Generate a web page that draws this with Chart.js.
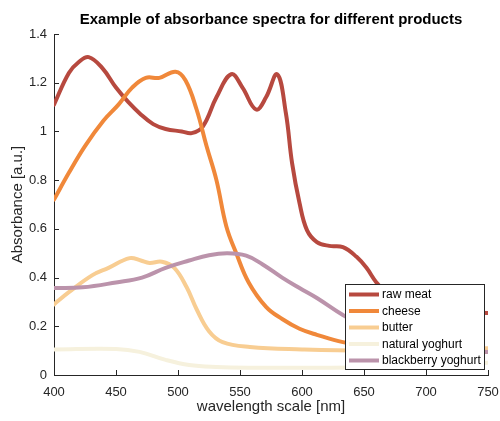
<!DOCTYPE html>
<html><head><meta charset="utf-8">
<script src="https://cdn.jsdelivr.net/npm/chart.js@4"></script>
<style>html,body{margin:0;padding:0;background:#fff}canvas{display:block}</style>
</head><body>
<canvas id="c" width="500" height="421"></canvas>
<script>
const chartTitle = 'Example of absorbance spectra for different products';
const xAxisTitle = 'wavelength scale [nm]';
const yAxisTitle = 'Absorbance [a.u.]';
const xTickLabels = ['400','450','500','550','600','650','700','750'];
const yTickLabels = ['0','0.2','0.4','0.6','0.8','1','1.2','1.4'];
const seriesLabels = ['raw meat','cheese','butter','natural yoghurt','blackberry yoghurt'];
const seriesColors = ['#b7493f','#f0883a','#f8cd92','#f6f1dd','#bb93ab'];

const rawMeatNm  = [400,412,420,428,439,450,460,470,480,490,503,511,520,531,543,552,563,571,580,587,592,598,604,612,622,633,644,652,660,670,685,700,725,750];
const rawMeatAbs = [1.11,1.24,1.285,1.305,1.26,1.18,1.12,1.07,1.03,1.01,1.0,0.993,1.02,1.14,1.235,1.18,1.09,1.14,1.235,1.075,0.87,0.706,0.595,0.546,0.53,0.525,0.485,0.44,0.38,0.33,0.29,0.27,0.258,0.255];

const cheeseNm  = [400,412,425,440,452,463,474,485,498,506,515,523,531,539,547,557,571,584,598,612,633,660,700,750];
const cheeseAbs = [0.72,0.83,0.94,1.045,1.11,1.18,1.22,1.22,1.245,1.21,1.09,0.94,0.80,0.61,0.50,0.38,0.28,0.23,0.19,0.165,0.135,0.115,0.10,0.095];

const butterNm  = [400,412,431,444,461,470,477,487,497,507,515,525,536,558,600,650,700,750];
const butterAbs = [0.29,0.34,0.41,0.44,0.48,0.47,0.46,0.465,0.44,0.36,0.27,0.18,0.135,0.115,0.105,0.10,0.105,0.11];

const naturalYoghurtNm  = [400,450,469,490,509,531,560,600,650,700,750];
const naturalYoghurtAbs = [0.105,0.107,0.095,0.062,0.041,0.033,0.03,0.03,0.032,0.04,0.05];

const blackberryYoghurtNm  = [400,423,450,471,490,509,525,540,555,568,584,598,612,633,660,680,700,725,750];
const blackberryYoghurtAbs = [0.357,0.36,0.38,0.40,0.44,0.47,0.492,0.50,0.49,0.455,0.40,0.357,0.316,0.246,0.17,0.13,0.11,0.10,0.094];

const seriesNm  = [rawMeatNm, cheeseNm, butterNm, naturalYoghurtNm, blackberryYoghurtNm];
const seriesAbs = [rawMeatAbs, cheeseAbs, butterAbs, naturalYoghurtAbs, blackberryYoghurtAbs];

const datasets = seriesLabels.map((lab, i) => ({
  label: lab,
  data: seriesNm[i].map((x, j) => ({x: x, y: seriesAbs[i][j]})),
  borderColor: seriesColors[i],
  backgroundColor: seriesColors[i],
  borderWidth: 4,
  pointRadius: 0,
  fill: false,
  tension: 0.4,
  borderCapStyle: 'round',
  borderJoinStyle: 'round'
})).reverse();

const FONT = "'Liberation Sans', Arial, Helvetica, sans-serif";
const AXC = '#262626';

const decor = {
  id: 'decor',
  afterDatasetsDraw(chart) {
    const ctx = chart.ctx;
    const xs = chart.scales.x, ys = chart.scales.y;
    const ca = chart.chartArea;
    ctx.save();
    ctx.strokeStyle = AXC; ctx.lineWidth = 1;
    ctx.beginPath();
    xs.ticks.forEach(t => {
      const px = Math.round(xs.getPixelForValue(t.value)) + 0.5;
      ctx.moveTo(px, ca.bottom); ctx.lineTo(px, ca.bottom - 5);
    });
    ys.ticks.forEach(t => {
      const py = Math.round(ys.getPixelForValue(t.value)) + 0.5;
      ctx.moveTo(ca.left, py); ctx.lineTo(ca.left + 5, py);
    });
    ctx.stroke();
    ctx.fillStyle = '#000';
    ctx.font = 'bold 15px ' + FONT;
    ctx.textAlign = 'center'; ctx.textBaseline = 'middle';
    ctx.fillText(chartTitle, (ca.left + ca.right) / 2, 20);
    const lx = 345, ly = 284, lw = 139, lh = 85;
    ctx.fillStyle = '#fff';
    ctx.fillRect(lx, ly, lw, lh);
    ctx.strokeStyle = AXC; ctx.lineWidth = 1;
    ctx.strokeRect(lx + 0.5, ly + 0.5, lw, lh);
    ctx.font = '12px ' + FONT;
    ctx.textAlign = 'left'; ctx.textBaseline = 'middle';
    seriesLabels.forEach((lab, i) => {
      const y = ly + 10.5 + i * 16.5;
      ctx.strokeStyle = seriesColors[i]; ctx.lineWidth = 4;
      ctx.beginPath(); ctx.moveTo(349, y); ctx.lineTo(379, y); ctx.stroke();
      ctx.fillStyle = '#000';
      ctx.fillText(lab, 382, y + 0.5);
    });
    ctx.restore();
  }
};

new Chart(document.getElementById('c'), {
  type: 'line',
  data: { datasets: datasets },
  options: {
    responsive: false,
    animation: false,
    layout: { padding: { top: 34, left: 0, right: 12, bottom: 0 } },
    plugins: { legend: { display: false }, title: { display: false }, tooltip: { enabled: false } },
    scales: {
      x: {
        type: 'linear', min: 400, max: 750,
        afterFit(s) { s.height = 46; s.paddingLeft = 0; s.paddingRight = 0; },
        ticks: { stepSize: 50, padding: 10, color: AXC, maxRotation: 0, autoSkip: false,
                 font: { family: FONT, size: 13 },
                 callback: (v, i) => xTickLabels[i] },
        grid: { display: false, drawTicks: false },
        border: { display: true, color: AXC, width: 1 },
        title: { display: true, text: xAxisTitle, color: AXC, font: { family: FONT, size: 15 },
                 padding: { top: 0, bottom: 5 } }
      },
      y: {
        type: 'linear', min: 0, max: 1.4,
        afterFit(s) { s.width = 54; s.paddingTop = 0; s.paddingBottom = 0; },
        ticks: { stepSize: 0.2, padding: 7, color: AXC, autoSkip: false,
                 font: { family: FONT, size: 13 },
                 callback: (v, i) => yTickLabels[i] },
        grid: { display: false, drawTicks: false },
        border: { display: true, color: AXC, width: 1 },
        title: { display: true, text: yAxisTitle, color: AXC, font: { family: FONT, size: 15 },
                 padding: { top: 9, bottom: 0 } }
      }
    }
  },
  plugins: [decor]
});
</script>
</body></html>
